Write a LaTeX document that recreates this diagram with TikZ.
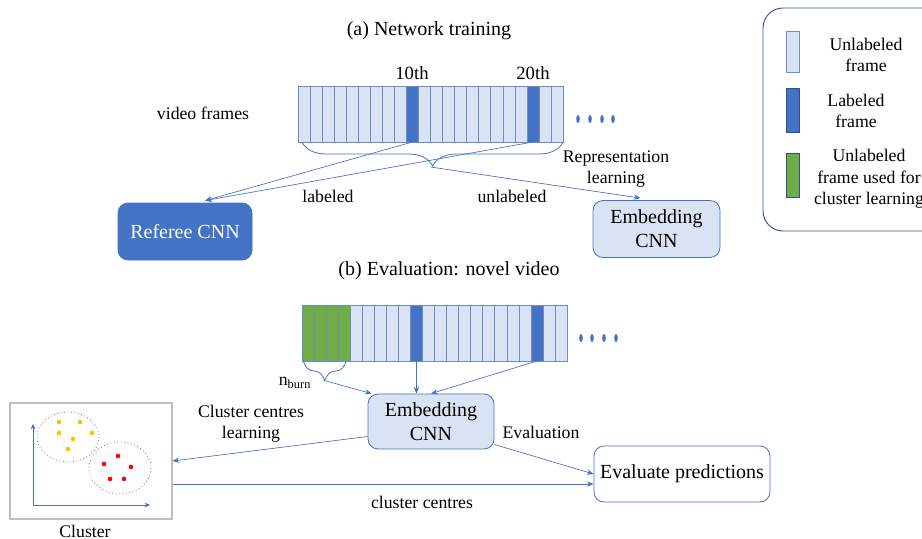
\documentclass[tikz,border=0pt]{standalone}
\usepackage{fontspec}
\setmainfont{Liberation Serif}
\usetikzlibrary{arrows.meta,calc,decorations.pathreplacing}

\definecolor{darkblue}{HTML}{4472C4}
\definecolor{lightblue}{HTML}{DAE3F3}
\definecolor{framegreen}{HTML}{70AD47}
\definecolor{edgeblue}{HTML}{2F528F}
\definecolor{cellline}{HTML}{6F8DC4}
\definecolor{dotyellow}{HTML}{FFC000}

\begin{document}
\begin{tikzpicture}[x=0.75pt, y=-0.75pt, >={Stealth[length=5pt,width=4pt]},
    bigtxt/.style={font=\fontsize{15}{18}\selectfont},
    smalltxt/.style={font=\fontsize{13.3}{16}\selectfont, align=center},
    cell/.style={draw=cellline, line width=0.5pt, minimum width=9.04pt, minimum height=42pt, inner sep=0pt, outer sep=0pt},
    netbox/.style={draw=darkblue, line width=0.6pt, rounded corners=7.5pt, align=center, bigtxt, inner sep=2pt},
    flow/.style={->, darkblue, line width=0.5pt},
    bracket/.style={darkblue, line width=0.6pt, decorate}]
    \useasboundingbox (0,0) rectangle (922,539);

    % Titles
    \node[bigtxt] (titlea) at (429,31) {(a) Network training};
    \node[bigtxt] (titleb) at (449,271) {(b) Evaluation: novel video};

    % Training frames
    \node[smalltxt] (videolbl) at (203,113) {video frames};
    \foreach \i in {1,...,22} {
        \def\cellfill{lightblue}
        \ifnum\i=10 \def\cellfill{darkblue}\fi
        \ifnum\i=20 \def\cellfill{darkblue}\fi
        \node[cell, fill=\cellfill] (ta\i) at ({298+(\i-0.5)*12.05},114) {};
    }
    \node[font=\fontsize{14}{16}\selectfont] (tenth) at (412,73) {10th};
    \node[font=\fontsize{14}{16}\selectfont] (twentieth) at (533,73) {20th};
    \foreach \x in {578,590,602,613}
        \fill[darkblue] (\x,119) ellipse (1.8 and 4);

    \draw[bracket, decoration={brace, mirror, amplitude=18pt}]
        ([xshift=3pt]ta1.south west) -- (ta22.south east);
    \coordinate (bracea) at ($(ta1.south west)!0.5!(ta22.south east)+(0,25)$);

    % Networks (a)
    \node[netbox, fill=darkblue, text=white, minimum width=100.5pt, minimum height=42.75pt]
        (referee) at (185,231.5) {Referee CNN};
    \node[netbox, fill=lightblue, minimum width=95.25pt, minimum height=42.75pt]
        (embeda) at (656.5,229) {Embedding\\CNN};

    \draw[flow] (ta10.south) -- ($(referee.north)+(20,-2)$);
    \draw[flow] (ta20.south) -- ($(referee.north)+(20,-2)$);
    \draw[flow] (bracea) -- ($(embeda.north)+(-16,-2)$);
    \node[smalltxt] (lbllabeled) at (328,196) {labeled};
    \node[smalltxt] (lblunlabeled) at (512,196) {unlabeled};
    \node[smalltxt] (lblrepr) at (616,169) {Representation\\learning};

    % Evaluation frames
    \foreach \i in {1,...,22} {
        \def\cellfill{lightblue}
        \ifnum\i<5 \def\cellfill{framegreen}\fi
        \ifnum\i=10 \def\cellfill{darkblue}\fi
        \ifnum\i=20 \def\cellfill{darkblue}\fi
        \node[cell, fill=\cellfill] (bb\i) at ({302+(\i-0.5)*12.05},333) {};
    }
    \foreach \x in {581,592,604,616}
        \fill[darkblue] (\x,338) ellipse (1.8 and 4);

    \draw[bracket, decoration={brace, mirror, amplitude=15pt}]
        ([xshift=1pt]bb1.south west) -- ([xshift=-3pt]bb4.south east);
    \coordinate (braceb) at ($(bb1.south west)!0.5!(bb4.south east)+(0,20)$);
    \node[font=\fontsize{13.3}{16}\selectfont] (nburn) at (295,383) {n\textsubscript{burn}};

    % Networks (b)
    \node[netbox, fill=lightblue, minimum width=94.5pt, minimum height=41.25pt]
        (embedb) at (431,421.5) {Embedding\\CNN};
    \node[netbox, fill=white, minimum width=132pt, minimum height=42pt]
        (evaluate) at (682,474) {Evaluate predictions};
    \node[draw=black!25, line width=0.8pt, minimum width=121.5pt, minimum height=87pt, inner sep=0pt]
        (cluster) at (91,461) {};
    \node[smalltxt] (clusterlbl) at (85,531) {Cluster};

    % Cluster plot
    \draw[<->, darkblue, line width=0.6pt, >={Stealth[length=4pt,width=3.5pt]}] (33,424) -- (33,505) -- (150,505);
    \draw[darkblue, dotted, line width=0.6pt] (68,437) ellipse (31 and 25);
    \draw[darkblue, dotted, line width=0.6pt] (120,468) ellipse (31 and 26);
    \foreach \p in {(59,422),(80,422),(59,433),(92,433),(73,439),(68,449)}
        \fill[dotyellow] \p circle (2.3);
    \foreach \p in {(118,456),(104,464),(131,467),(110,479),(124,479)}
        \fill[red] \p circle (2.3);

    \draw[flow] (braceb) -- ($(embedb.north west)+(4,0)$);
    \draw[flow] (bb10.south) -- (bb10.south |- embedb.north);
    \draw[flow] (bb20.south) -- (embedb.north);
    \draw[flow] ($(embedb.west)+(0,15)$) -- (cluster.east);
    \draw[flow] ($(embedb.east)+(0,23)$) -- (evaluate.west);
    \coordinate (cc) at ($(cluster.east)+(0,23)$);
    \draw[flow] (cc) -- (cc -| evaluate.west);
    \node[smalltxt] (lblccl) at (251,424) {Cluster centres\\learning};
    \node[smalltxt] (lbleval) at (541,432) {Evaluation};
    \node[smalltxt] (lblcc) at (422,502) {cluster centres};

    % Legend
    \draw[edgeblue, line width=0.7pt, rounded corners=15pt] (763,8) rectangle (945,231);
    \node[cell, fill=lightblue, minimum height=30.75pt, minimum width=9.75pt] (keyun) at (792.5,51.5) {};
    \node[cell, draw=edgeblue, fill=darkblue, minimum height=33pt, minimum width=9.75pt] (keylab) at (793,110) {};
    \node[cell, draw=edgeblue, fill=framegreen, minimum height=33pt, minimum width=9.75pt] (keyburn) at (793,175) {};
    \node[smalltxt] (txtun) at (866,55) {Unlabeled\\frame};
    \node[smalltxt] (txtlab) at (856,111) {Labeled\\frame};
    \node[smalltxt] (txtburn) at (869,179) {Unlabeled\\frame used for\\cluster learning};
\end{tikzpicture}
\end{document}
